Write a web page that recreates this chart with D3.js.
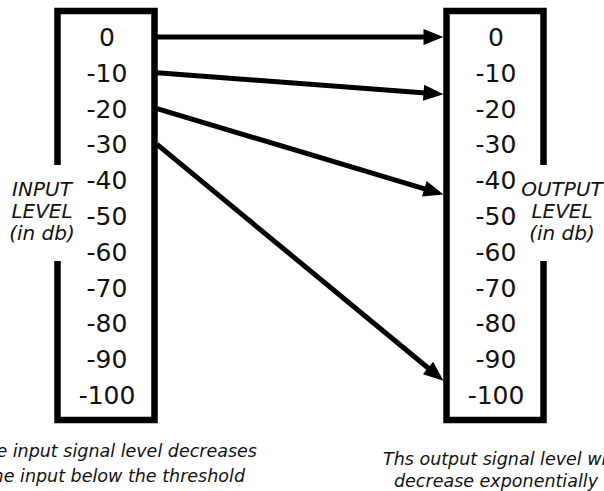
<!DOCTYPE html>
<html>
<head>
<meta charset="utf-8">
<script src="https://cdn.jsdelivr.net/npm/d3@7"></script>
<style>
  body { margin: 0; background: #fff; }
  text { font-family: "DejaVu Sans", Verdana, sans-serif; fill: #111; }
</style>
</head>
<body>
<div id="chart"></div>
<script>
// level ticks shown in both columns (db)
var levels = [0, -10, -20, -30, -40, -50, -60, -70, -80, -90, -100];
// arrows: input level -> output level
var inputLevels = [0, -10, -20, -30];
var outputLevels = [0, -16, -44, -96];
var columns = ["input", "output"];
var sideLabels = [["INPUT", "LEVEL", "(in db)"], ["OUTPUT", "LEVEL", "(in db)"]];
var leftNote = ["the input signal level decreases", "the input below the threshold"];
var rightNote = ["Ths output signal level will", "decrease exponentially"];

var width = 604, height = 491;

var svg = d3.select("#chart")
    .append("svg")
    .attr("width", width)
    .attr("height", height);

// column centres and level positions
var x = d3.scalePoint().domain(columns).range([106, 495]);
var y = d3.scaleLinear().domain([0, -100]).range([37, 395]);

var halfW = 48.5, boxTop = 11, boxBottom = 420, gapTop = 165, gapBottom = 261;

// boxes, each with an opening on its outer side
columns.forEach(function(c, i) {
  var l = x(c) - halfW, r = x(c) + halfW;
  var d;
  if (i == 0) {
    d = "M" + l + "," + gapTop + "V" + boxTop + "H" + r + "V" + boxBottom + "H" + l + "V" + gapBottom;
  } else {
    d = "M" + r + "," + gapTop + "V" + boxTop + "H" + l + "V" + boxBottom + "H" + r + "V" + gapBottom;
  }
  svg.append("path")
    .attr("d", d)
    .attr("fill", "none")
    .attr("stroke", "#000")
    .attr("stroke-width", 6.5)
    .attr("stroke-linejoin", "miter");
});

// level numbers
columns.forEach(function(c) {
  svg.append("g").selectAll("text")
    .data(levels)
    .enter()
    .append("text")
    .attr("x", x(c) + 1)
    .attr("y", function(d) { return y(d) + 9; })
    .attr("text-anchor", "middle")
    .style("font-size", "25px")
    .text(function(d) { return d; });
});

// side labels
sideLabels.forEach(function(lines, i) {
  var cx = i == 0 ? x(columns[0]) - 64 : x(columns[1]) + 67;
  svg.append("g").selectAll("text")
    .data(lines)
    .enter()
    .append("text")
    .attr("x", cx)
    .attr("y", function(d, j) { return 196 + j * 22; })
    .attr("text-anchor", "middle")
    .style("font-size", "20px")
    .style("font-style", "italic")
    .text(function(d) { return d; });
});

// arrows
var x0 = x("input") + halfW + 2.5, x1 = x("output") - halfW - 3;
var headL = 20, headW = 16;
inputLevels.forEach(function(v, i) {
  var ya = y(v), yb = y(outputLevels[i]);
  var ang = Math.atan2(yb - ya, x1 - x0);
  svg.append("line")
    .attr("x1", x0).attr("y1", ya)
    .attr("x2", x1 - (headL - 2) * Math.cos(ang))
    .attr("y2", yb - (headL - 2) * Math.sin(ang))
    .attr("stroke", "#000")
    .attr("stroke-width", 5);
  svg.append("path")
    .attr("d", "M0,0L" + (-headL) + "," + (-headW / 2) + "L" + (-headL) + "," + (headW / 2) + "Z")
    .attr("transform", "translate(" + x1 + "," + yb + ") rotate(" + (ang * 180 / Math.PI) + ")")
    .attr("fill", "#000");
});

// notes under the boxes
svg.append("g").selectAll("text")
  .data(leftNote)
  .enter()
  .append("text")
  .attr("x", function(d, j) { return j == 0 ? 257 : 245; })
  .attr("y", function(d, j) { return 457 + j * 25; })
  .attr("text-anchor", "end")
  .style("font-size", "17.5px")
  .style("font-style", "italic")
  .text(function(d) { return d; });

svg.append("g").selectAll("text")
  .data(rightNote)
  .enter()
  .append("text")
  .attr("x", function(d, j) { return j == 0 ? 383 : x("output") + 1; })
  .attr("y", function(d, j) { return 465 + j * 22; })
  .attr("text-anchor", function(d, j) { return j == 0 ? "start" : "middle"; })
  .style("font-size", "17.5px")
  .style("font-style", "italic")
  .text(function(d) { return d; });
</script>
</body>
</html>
